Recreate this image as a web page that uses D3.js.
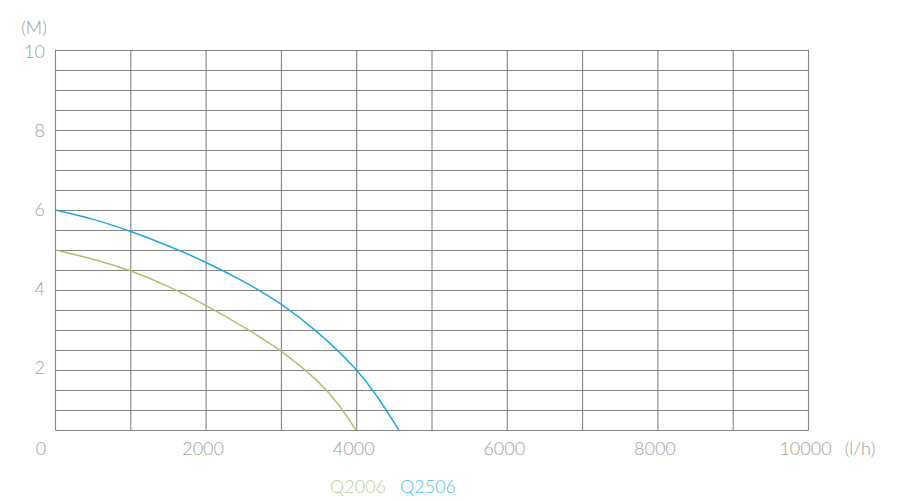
<!DOCTYPE html>
<html>
<head>
<meta charset="utf-8">
<script src="https://cdn.jsdelivr.net/npm/d3@7"></script>
<style>
  body { margin: 0; background: #fff; }
  text { font-family: "Lato", "Open Sans", sans-serif; font-weight: 300; fill: #a0a0a0; }
</style>
</head>
<body>
<svg id="chart" width="900" height="500"></svg>
<script>
// flow (l/h) vs head (M)
var flowQ2006 = [0, 500, 1000, 1500, 2000, 2500, 3000, 3500, 3750, 3990]
var headQ2006 = [5.0, 4.78, 4.49, 4.1, 3.62, 3.08, 2.5, 1.72, 1.18, 0.5]

var flowQ2506 = [0, 500, 1000, 1500, 2000, 2500, 3000, 3500, 4000, 4250, 4560]
var headQ2506 = [6.0, 5.78, 5.47, 5.11, 4.7, 4.22, 3.67, 2.94, 2.03, 1.42, 0.5]

var xTicks = [2000, 4000, 6000, 8000, 10000]
var yTicks = [2, 4, 6, 8, 10]
var seriesNames = ["Q2006", "Q2506"]
var seriesColors = ["#a9c46c", "#1ea8e6"]
var legendColors = ["#bdd293", "#4dc0ef"]

var svg = d3.select("#chart")

var x = d3.scaleLinear().domain([0, 10000]).range([55.5, 808.5])
var y = d3.scaleLinear().domain([0, 10]).range([450, 50])
// labels sit a bit off the grid lines in the original
var yLab = d3.scaleLinear().domain([0, 10]).range([446, 51])
var yMin = 0.5

var grid = svg.append("g")
grid.selectAll("line.h")
  .data(d3.range(1, 21).map(function(i){ return i * 0.5 }))
  .join("line")
  .attr("x1", x(0)).attr("x2", x(10000))
  .attr("y1", function(d){ return Math.round(y(d)) + 0.5 })
  .attr("y2", function(d){ return Math.round(y(d)) + 0.5 })
  .attr("stroke", "#858585").attr("stroke-width", 1.1)

grid.selectAll("line.v")
  .data(d3.range(0, 11).map(function(i){ return i * 1000 }))
  .join("line")
  .attr("x1", function(d){ return x(d) }).attr("x2", function(d){ return x(d) })
  .attr("y1", y(10)).attr("y2", y(yMin) + 0.5)
  .attr("stroke", "#858585").attr("stroke-width", 1.1)

var line = d3.line()
  .x(function(d){ return x(d[0]) })
  .y(function(d){ return y(d[1]) })
  .curve(d3.curveBasis)

var series = [d3.zip(flowQ2006, headQ2006), d3.zip(flowQ2506, headQ2506)]
series.forEach(function(s, i)
{
  svg.append("path")
    .datum(s)
    .attr("d", line)
    .attr("fill", "none")
    .attr("stroke", seriesColors[i])
    .attr("stroke-width", 1.5)
})

// y labels
svg.selectAll("text.yl")
  .data(yTicks)
  .join("text")
  .attr("x", 45)
  .attr("y", function(d){ return yLab(d) })
  .attr("text-anchor", "end")
  .attr("dominant-baseline", "central")
  .style("font-size", "18px")
  .text(function(d){ return d })

svg.append("text")
  .attr("x", 34).attr("y", 27)
  .attr("text-anchor", "middle")
  .attr("dominant-baseline", "central")
  .style("font-size", "18px")
  .text("(M)")

// x labels
svg.selectAll("text.xl")
  .data(xTicks)
  .join("text")
  .attr("x", function(d){ return x(d) - 3 })
  .attr("y", 448)
  .attr("text-anchor", "middle")
  .attr("dominant-baseline", "central")
  .style("font-size", "18px")
  .text(function(d){ return d })

svg.append("text")
  .attr("x", 41).attr("y", 448)
  .attr("text-anchor", "middle")
  .attr("dominant-baseline", "central")
  .style("font-size", "18px")
  .text("0")

svg.append("text")
  .attr("x", 860).attr("y", 448)
  .attr("text-anchor", "middle")
  .attr("dominant-baseline", "central")
  .style("font-size", "18px")
  .text("(l/h)")

// legend
var legendX = [330, 400]
seriesNames.forEach(function(n, i)
{
  svg.append("text")
    .attr("x", legendX[i]).attr("y", 486)
    .attr("dominant-baseline", "central")
    .style("font-size", "18px")
    .style("fill", legendColors[i])
    .text(n)
})
</script>
</body>
</html>
